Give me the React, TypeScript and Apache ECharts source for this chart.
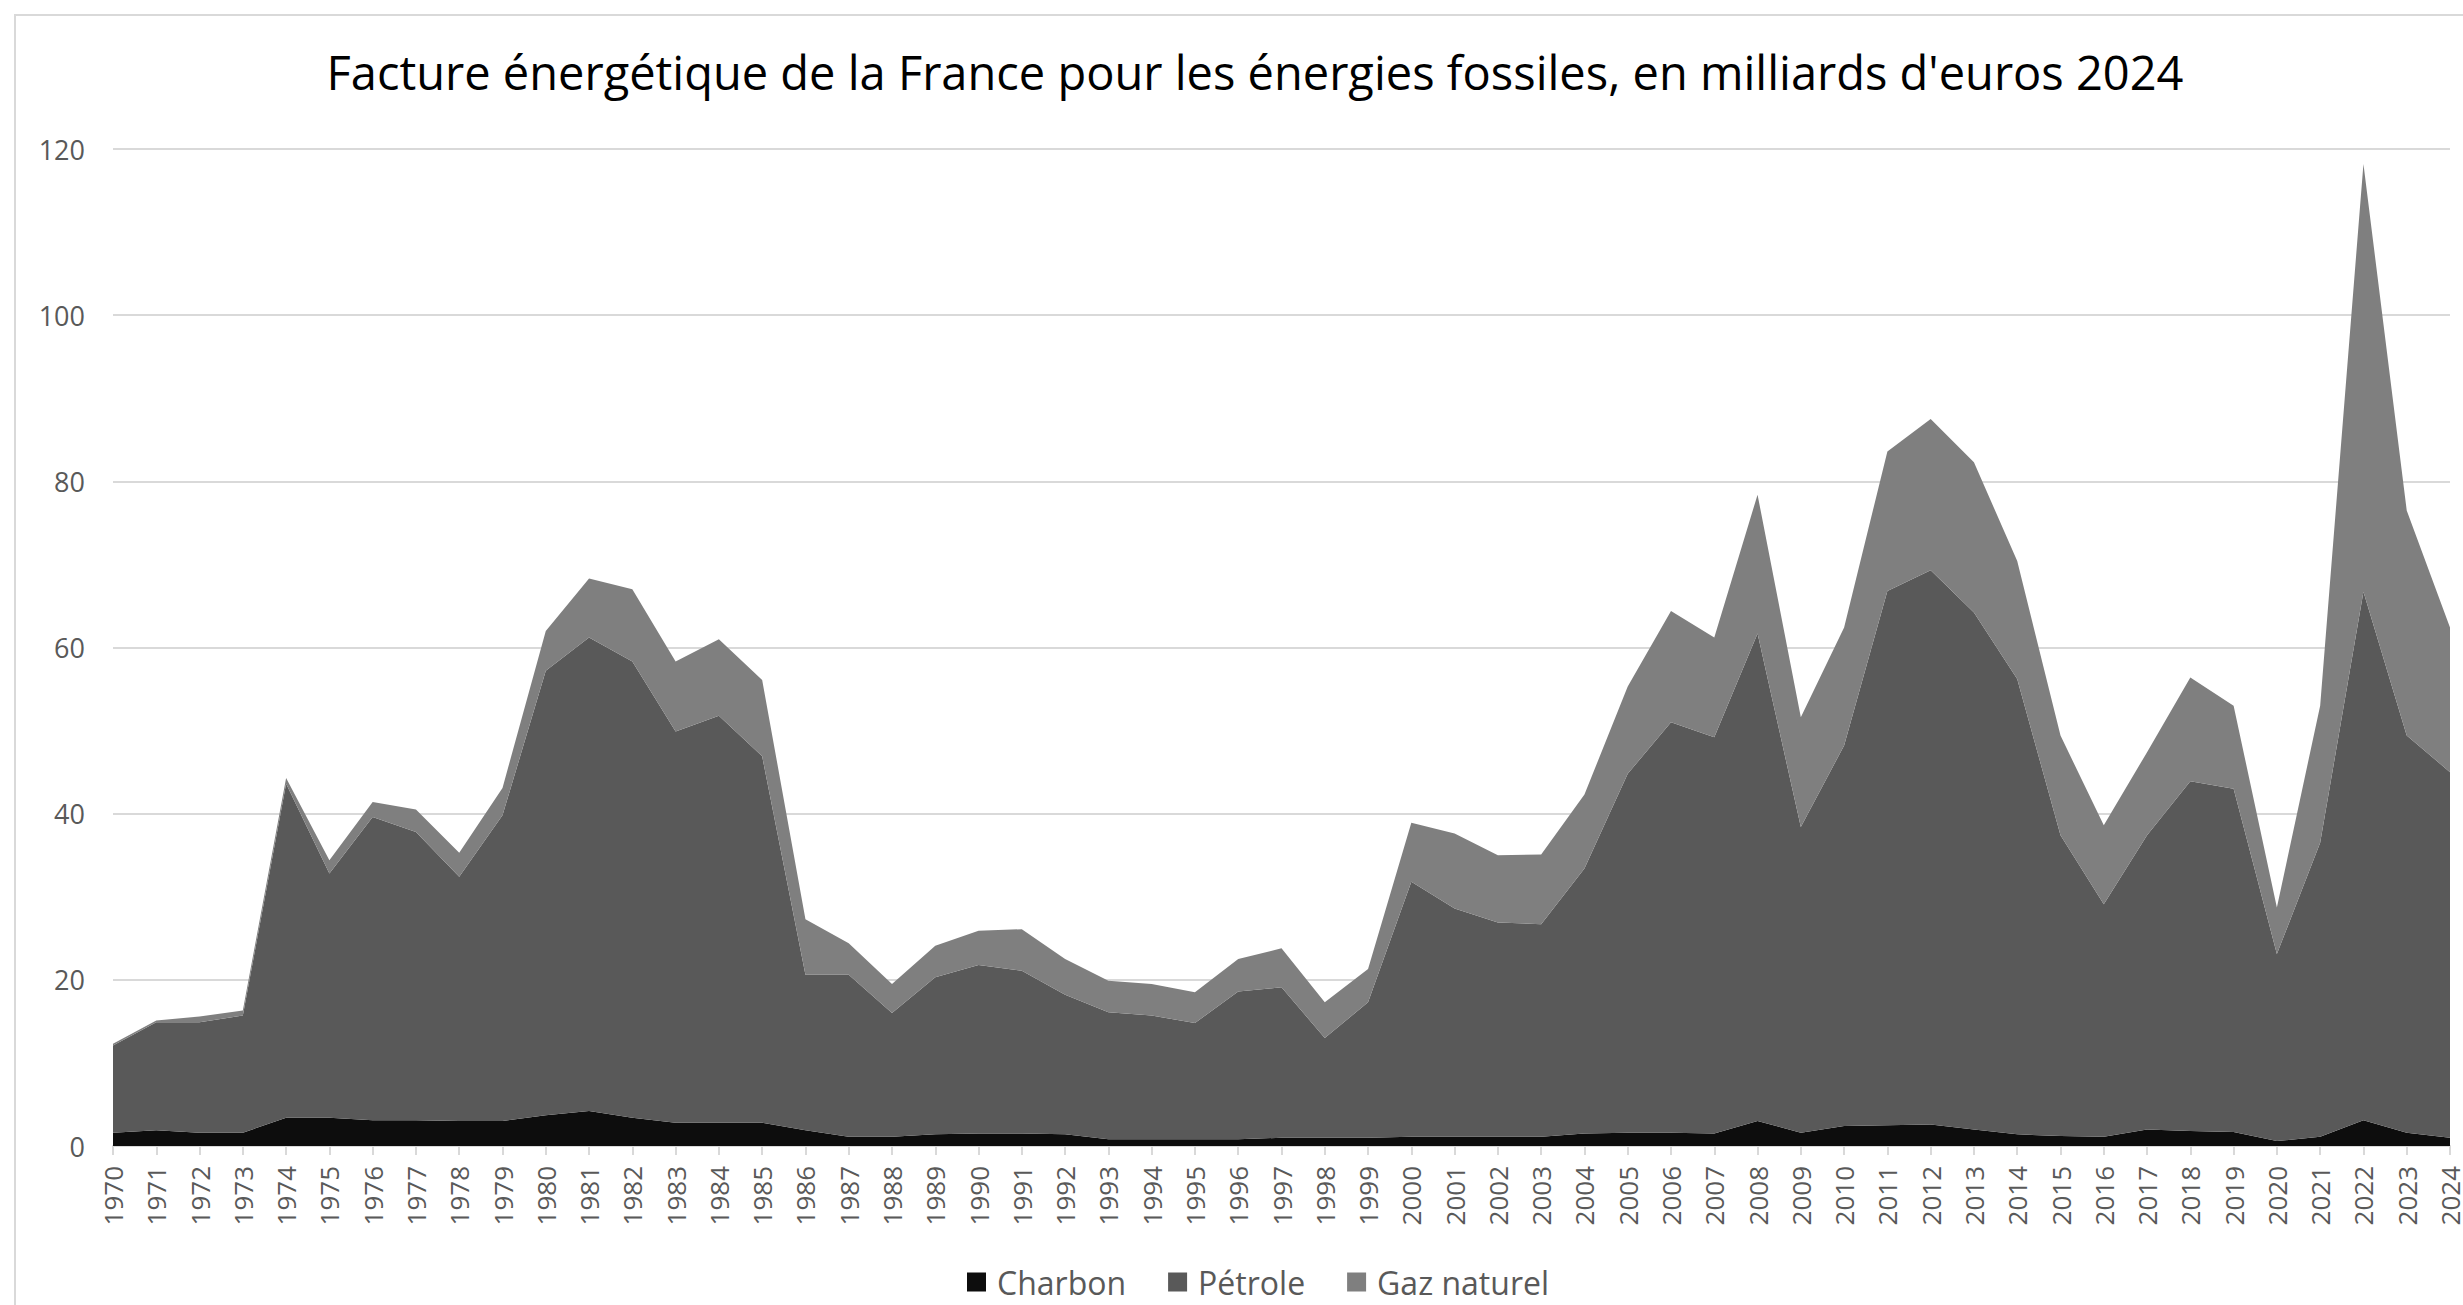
import React, { useEffect, useRef } from "react";
import * as echarts from "echarts";

const years: string[] = [];
for (let y = 1970; y <= 2024; y++) years.push(String(y));

const charbon = [
  1.6, 1.9, 1.6, 1.6, 3.4, 3.4, 3.1, 3.1, 3.0, 3.0,
  3.7, 4.2, 3.4, 2.8, 2.8, 2.8, 1.9, 1.1, 1.1, 1.4,
  1.5, 1.5, 1.4, 0.8, 0.8, 0.8, 0.8, 1.0, 1.0, 1.0,
  1.1, 1.1, 1.1, 1.1, 1.5, 1.6, 1.6, 1.5, 3.0, 1.6,
  2.4, 2.5, 2.6, 2.0, 1.4, 1.2, 1.1, 2.0, 1.8, 1.7,
  0.6, 1.1, 3.1, 1.6, 1.0,
];

const petrole = [
  10.5, 13.0, 13.3, 14.1, 40.2, 29.4, 36.5, 34.7, 29.4, 36.8,
  53.5, 57.0, 54.9, 47.1, 49.0, 44.1, 18.7, 19.5, 14.9, 18.9,
  20.3, 19.6, 16.8, 15.3, 14.9, 14.0, 17.8, 18.1, 12.0, 16.3,
  30.7, 27.5, 25.8, 25.6, 31.9, 43.2, 49.4, 47.7, 58.7, 36.8,
  45.8, 64.3, 66.7, 62.2, 54.8, 36.2, 28.0, 35.4, 42.1, 41.3,
  22.5, 35.4, 63.6, 47.8, 44.0,
];

const gaz = [
  0.2, 0.2, 0.7, 0.6, 0.7, 1.6, 1.8, 2.7, 2.9, 3.3,
  4.8, 7.1, 8.7, 8.4, 9.2, 9.2, 6.7, 3.8, 3.5, 3.8,
  4.1, 5.0, 4.3, 3.8, 3.8, 3.7, 3.9, 4.7, 4.3, 4.0,
  7.1, 9.0, 8.1, 8.4, 8.9, 10.5, 13.4, 12.0, 16.7, 13.2,
  14.2, 16.8, 18.2, 18.1, 14.2, 12.0, 9.5, 10.0, 12.5, 10.0,
  5.6, 16.5, 51.5, 27.1, 17.4,
];

const seriesNames = ["Charbon", "Pétrole", "Gaz naturel"];
const seriesColors = ["#0d0d0d", "#595959", "#7f7f7f"];
const titleText =
  "Facture énergétique de la France pour les énergies fossiles, en milliards d'euros 2024";

const FONT = "'Open Sans', 'Noto Sans', sans-serif";

export default function App() {
  const ref = useRef<HTMLDivElement>(null);

  useEffect(() => {
    if (!ref.current) return;
    const chart = echarts.init(ref.current, null, { renderer: "svg" });
    const data = [charbon, petrole, gaz];
    chart.setOption({
      animation: false,
      backgroundColor: "#ffffff",
      textStyle: { fontFamily: FONT },
      title: {
        text: titleText,
        left: 1250,
        top: 43,
        textAlign: "center",
        textStyle: {
          fontFamily: FONT,
          fontSize: 47,
          fontWeight: "normal",
          color: "#000000",
        },
      },
      graphic: [
        {
          type: "rect",
          shape: { x: 15, y: 15, width: 2600, height: 1500 },
          style: { fill: "none", stroke: "#d9d9d9", lineWidth: 2 },
          silent: true,
          z: -1,
        },
      ],
      legend: {
        left: 962,
        top: 1261,
        icon: "rect",
        itemWidth: 19,
        itemHeight: 19,
        itemGap: 42,
        data: seriesNames,
        textStyle: {
          fontFamily: FONT,
          fontSize: 32,
          lineHeight: 32,
          color: "#595959",
          padding: [0, 0, 0, 6],
        },
      },
      grid: {
        left: 113,
        right: 10,
        top: 149,
        bottom: 159,
        containLabel: false,
      },
      xAxis: {
        type: "category",
        data: years,
        boundaryGap: false,
        axisLine: { show: true, lineStyle: { color: "#d9d9d9", width: 2 } },
        axisTick: {
          show: true,
          interval: 0,
          length: 9,
          lineStyle: { color: "#d9d9d9", width: 2 },
        },
        axisLabel: {
          interval: 0,
          rotate: 90,
          margin: 20,
          fontFamily: FONT,
          fontSize: 26,
          color: "#595959",
        },
        splitLine: { show: false },
      },
      yAxis: {
        type: "value",
        min: 0,
        max: 120,
        interval: 20,
        axisLine: { show: false },
        axisTick: { show: false },
        axisLabel: {
          margin: 28,
          fontFamily: FONT,
          fontSize: 27,
          color: "#595959",
        },
        splitLine: { show: true, lineStyle: { color: "#d9d9d9", width: 2 } },
      },
      series: seriesNames.map((name, i) => ({
        name,
        type: "line",
        stack: "total",
        data: data[i],
        symbol: "none",
        showSymbol: false,
        lineStyle: { width: 0 },
        itemStyle: { color: seriesColors[i] },
        areaStyle: { color: seriesColors[i], opacity: 1 },
        z: 2,
      })),
    });
    return () => {
      chart.dispose();
    };
  }, []);

  return (
    <div
      ref={ref}
      style={{
        position: "fixed",
        left: 0,
        top: 0,
        width: 2463,
        height: 1305,
        background: "#ffffff",
      }}
    />
  );
}
